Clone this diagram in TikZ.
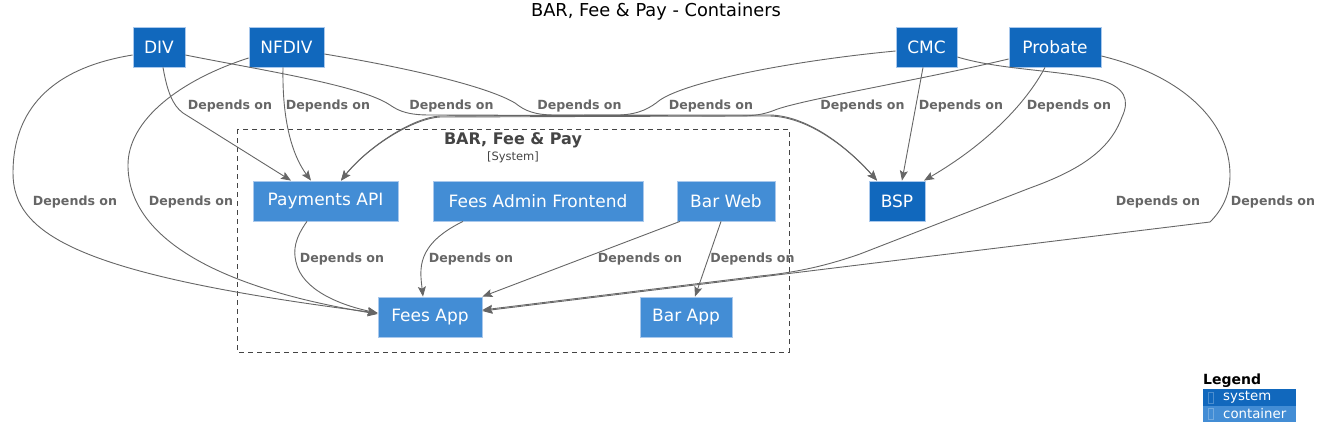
\documentclass[tikz,border=0pt]{standalone}
\usepackage{fontspec}
\setmainfont{DejaVu Sans}
\usetikzlibrary{arrows.meta}
\definecolor{sysblue}{HTML}{1168BD}
\definecolor{contblue}{HTML}{438DD5}
\definecolor{boxedge}{HTML}{A9C8EC}
\definecolor{edgegray}{HTML}{666666}
\definecolor{bndgray}{HTML}{444444}
\tikzset{
  sysbox/.style={rectangle, fill=sysblue, draw=boxedge, line width=0.8pt, text=white,
    font=\fontsize{17}{20}\selectfont, inner sep=0pt, minimum height=40pt},
  contbox/.style={sysbox, fill=contblue},
  dep/.style={draw=edgegray, line width=0.9pt, -{Stealth[length=10pt,width=8pt,inset=2pt]}},
  lbl/.style={text=edgegray, font=\bfseries\fontsize{12.6}{15}\selectfont, inner sep=0pt},
}
\begin{document}
\begin{tikzpicture}[x=1pt,y=-1pt]
\useasboundingbox (0,0) rectangle (1322,444);
% title
\node[font=\fontsize{17.8}{21}\selectfont, text=black] (title) at (656,12) {BAR, Fee \& Pay - Containers};
% boundary
\draw[draw=bndgray, line width=0.9pt, dash pattern=on 5pt off 4pt] (237,129) rectangle (789,352);
\node[font=\bfseries\fontsize{16}{19}\selectfont, text=bndgray] (btitle) at (513,140) {BAR, Fee \& Pay};
\node[font=\fontsize{11.5}{14}\selectfont, text=bndgray] (bsub) at (513,157) {[System]};
% systems
\node[sysbox, minimum width=52pt] (div) at (159,47) {DIV};
\node[sysbox, minimum width=75pt] (nfdiv) at (286.5,47) {NFDIV};
\node[sysbox, minimum width=61pt] (cmc) at (926.5,47) {CMC};
\node[sysbox, minimum width=92pt] (probate) at (1055,47) {Probate};
\node[sysbox, minimum width=56pt] (bsp) at (897,201) {BSP};
% containers
\node[contbox, minimum width=145pt] (pay) at (325.5,201) {Payments API};
\node[contbox, minimum width=210pt] (fafe) at (538,201) {Fees Admin Frontend};
\node[contbox, minimum width=98pt] (barweb) at (726,201) {Bar Web};
\node[contbox, minimum width=104pt] (feesapp) at (430,317) {Fees App};
\node[contbox, minimum width=92pt] (barapp) at (686,317) {Bar App};
% edges
\draw[dep] ([xshift=4pt]div.south) .. controls (167,90) and (172,105) .. (183,113) -- ([xshift=-34.5pt]pay.north);
\draw[dep] ([xshift=-3.5pt]nfdiv.south) .. controls (282,120) and (292,155) .. ([xshift=-14.5pt]pay.north);
\draw[dep] ([yshift=-8pt]div.west) .. controls (40,70) and (13,120) .. (13,173) .. controls (13,235) and (80,275) .. ([yshift=4pt]feesapp.west);
\draw[dep] ([yshift=-11pt]nfdiv.west) .. controls (180,80) and (128,120) .. (128,165) .. controls (128,230) and (200,285) .. ([yshift=3pt]feesapp.west);
\draw[dep] ([yshift=-8pt]div.east) .. controls (260,70) and (360,85) .. (390,105) .. controls (400,112) and (410,115) .. (430,115) -- (770,116) .. controls (810,117) and (850,150) .. ([xshift=-20pt]bsp.north);
\draw[dep] ([yshift=-7pt]nfdiv.east) .. controls (420,70) and (490,88) .. (515,103) .. controls (525,111) and (535,115) .. (555,115) -- (770,115) .. controls (810,116) and (850,150) .. ([xshift=-20pt]bsp.north);
\draw[dep] ([yshift=-4pt]cmc.west) .. controls (800,60) and (690,80) .. (660,100) .. controls (650,108) and (640,114) .. (620,115) -- (440,116) .. controls (410,118) and (365,150) .. ([xshift=15.5pt]pay.north);
\draw[dep] ([yshift=-12pt]probate.west) .. controls (920,80) and (800,100) .. (775,110) .. controls (765,114) and (755,116) .. (740,116) -- (440,117) .. controls (410,119) and (365,150) .. ([xshift=15.5pt]pay.north);
\draw[dep] ([xshift=-3.5pt]cmc.south) -- ([xshift=5pt]bsp.north);
\draw[dep] ([xshift=-10pt]probate.south) .. controls (1025,105) and (985,145) .. ([xshift=27pt]bsp.north);
\draw[dep] ([yshift=-10pt]cmc.east) .. controls (1000,70) and (1060,70) .. (1100,80) .. controls (1125,87) and (1130,100) .. (1122,117) .. controls (1110,150) and (1080,170) .. (1030,188) -- (860,254) .. controls (820,268) and (790,273) .. (760,276) -- ([yshift=7pt]feesapp.east);
\draw[dep] ([yshift=-9pt]probate.east) .. controls (1180,75) and (1230,120) .. (1230,175) .. controls (1230,195) and (1222,210) .. (1210,222) -- ([yshift=6pt]feesapp.east);
\draw[dep] ([xshift=-18.5pt]pay.south) .. controls (295,238) and (293,250) .. (296,262) .. controls (302,290) and (340,305) .. ([yshift=4pt]feesapp.west);
\draw[dep] ([xshift=-75pt]fafe.south) .. controls (415,245) and (420,270) .. ([xshift=-7pt]feesapp.north);
\draw[dep] ([xshift=-46pt]barweb.south) -- (feesapp.north east);
\draw[dep] ([xshift=-5pt]barweb.south) -- ([xshift=9pt]barapp.north);
% labels
\node[lbl] (l1) at (230,106) {Depends on};
\node[lbl] (l2) at (328,106) {Depends on};
\node[lbl] (l3) at (451.5,106) {Depends on};
\node[lbl] (l4) at (579.5,106) {Depends on};
\node[lbl] (l5) at (711,106) {Depends on};
\node[lbl] (l6) at (862.5,106) {Depends on};
\node[lbl] (l7) at (961,106) {Depends on};
\node[lbl] (l8) at (1069,106) {Depends on};
\node[lbl] (l9) at (75,202) {Depends on};
\node[lbl] (l10) at (191,202) {Depends on};
\node[lbl] (l11) at (1158,202) {Depends on};
\node[lbl] (l12) at (1273,202) {Depends on};
\node[lbl] (l13) at (342,259) {Depends on};
\node[lbl] (l14) at (471,259) {Depends on};
\node[lbl] (l15) at (640,259) {Depends on};
\node[lbl] (l16) at (752.5,259) {Depends on};
% legend
\node[anchor=west, font=\bfseries\fontsize{14}{17}\selectfont, inner sep=0pt] (leg) at (1203,381) {Legend};
\fill[sysblue] (1203,389) rectangle (1296,406);
\fill[contblue] (1203,406) rectangle (1296,422);
\draw[white!25!sysblue, line width=0.5pt] (1208.5,392.5) rectangle (1213.5,403.5);
\draw[white!25!contblue, line width=0.5pt] (1208.5,408.5) rectangle (1213.5,419.5);
\node[anchor=west, text=white, font=\fontsize{13.3}{16}\selectfont, inner sep=0pt] (legsys) at (1223,397.5) {system};
\node[anchor=west, text=white, font=\fontsize{13.3}{16}\selectfont, inner sep=0pt] (legcont) at (1223,414) {container};
\end{tikzpicture}
\end{document}
